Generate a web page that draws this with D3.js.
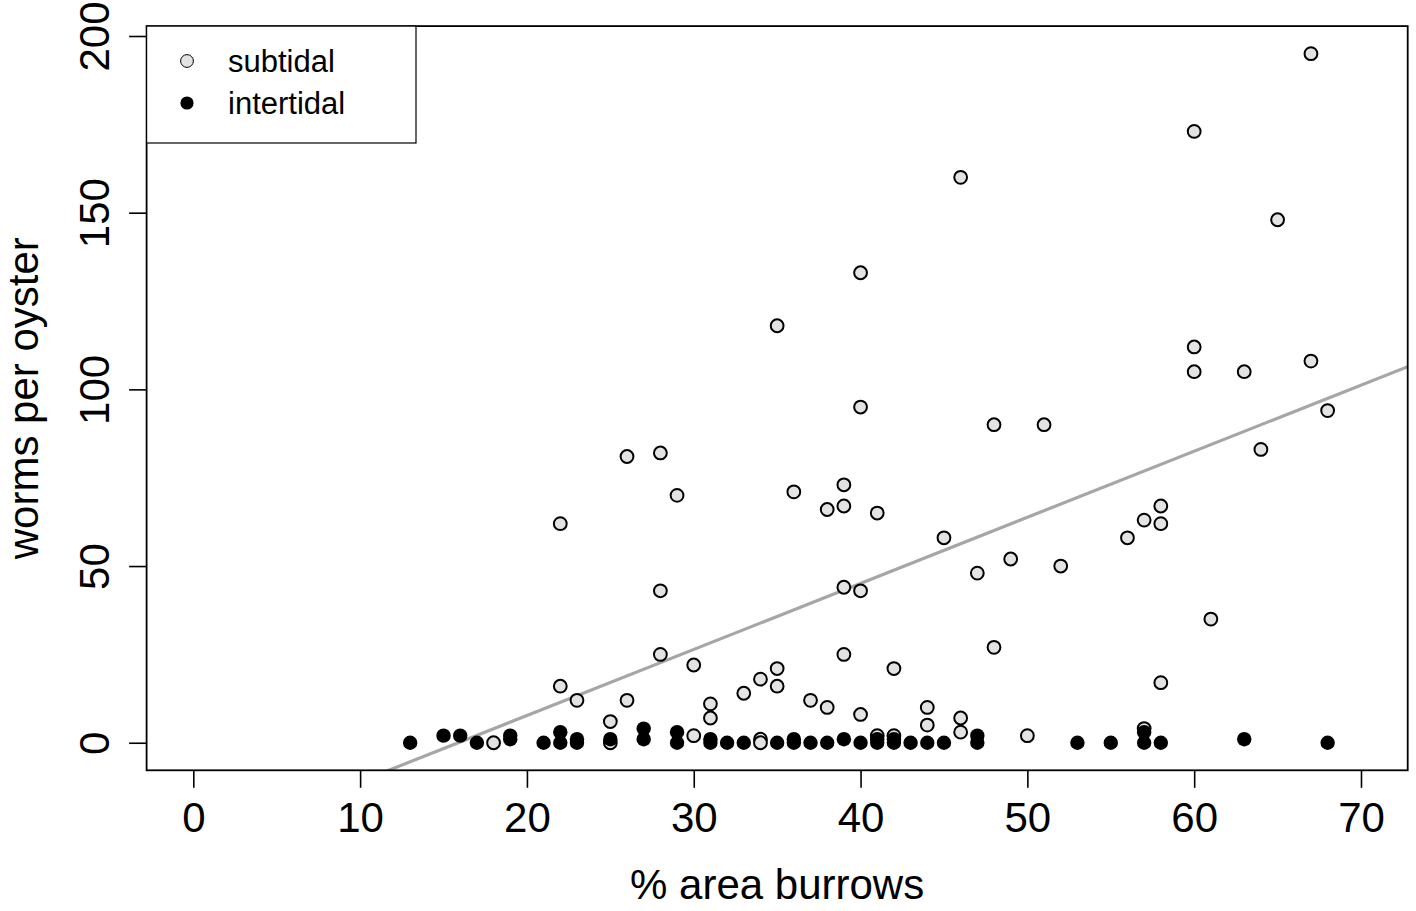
<!DOCTYPE html>
<html>
<head>
<meta charset="utf-8">
<script src="https://cdn.jsdelivr.net/npm/d3@7"></script>
<style>
  html, body { margin: 0; padding: 0; background: #fff; }
  svg { display: block; font-family: "Liberation Sans", Arial, Helvetica, sans-serif; }
</style>
</head>
<body>
<svg id="chart" width="1416" height="911"></svg>
<script>
// Worm counts per oyster against % area covered by burrows
const subtidalX = [67, 60, 46, 65, 40, 35, 60, 60, 63, 67, 40, 68, 48, 51, 64, 26, 28, 29, 36, 39,
                   39, 38, 41, 58, 57, 58, 56, 22, 45, 49, 52, 47, 28, 39, 40, 61, 48, 28, 39, 30,
                   35, 42, 34, 58, 22, 35, 33, 37, 23, 26, 31, 38, 44, 40, 31, 46, 25, 44, 57, 46,
                   18, 25, 30, 34, 34, 41, 42, 50];
const subtidalY = [195, 173, 160, 148, 133, 118, 112, 105, 105, 108, 95, 94, 90, 90, 83, 81, 82, 70, 71, 73,
                   67, 66, 65, 67, 63, 62, 58, 62, 58, 52, 50, 48, 43, 44, 43, 35, 27, 25, 25, 22,
                   21, 21, 18, 17, 16, 16, 14, 12, 12, 12, 11, 10, 10, 8, 7, 7, 6, 5, 4, 3,
                   0, 0, 2, 1, 0, 2, 2, 2];

const intertidalX = [13, 15, 16, 17, 19, 19, 21, 22, 22, 23, 23, 25, 27, 27, 29, 29, 31, 31, 32, 33,
                     35, 36, 36, 37, 38, 39, 40, 41, 41, 42, 42, 43, 44, 45, 47, 47, 53, 55, 57, 57,
                     58, 63, 68];
const intertidalY = [0, 2, 2, 0, 2, 1, 0, 3, 0, 1, 0, 1, 4, 1, 3, 0, 1, 0, 0, 0,
                     0, 1, 0, 0, 0, 1, 0, 1, 0, 1, 0, 0, 0, 0, 2, 0, 0, 0, 3, 0,
                     0, 1, 0];

// Fitted least-squares line: worms = intercept + slope * %area
const fitIntercept = -29.7;
const fitSlope = 1.87;

const xTicks = [0, 10, 20, 30, 40, 50, 60, 70];
const yTicks = [0, 50, 100, 150, 200];
const seriesNames = ["subtidal", "intertidal"];

const xTitle = "% area burrows";
const yTitle = "worms per oyster";

const svg = d3.select("#chart");

const plot = { left: 146.6, right: 1407.7, top: 26.1, bottom: 770.3 };

const x = d3.scaleLinear().domain([-2.8, 72.8]).range([plot.left, plot.right]);
const y = d3.scaleLinear().domain([-7.8, 202.8]).range([plot.bottom, plot.top]);

const fillSub = "#e3e3e3";

svg.append("defs").append("clipPath").attr("id", "plotClip")
  .append("rect")
  .attr("x", plot.left).attr("y", plot.top)
  .attr("width", plot.right - plot.left).attr("height", plot.bottom - plot.top);

// regression line
const x0 = -2.8, x1 = 72.8;
svg.append("line")
  .attr("clip-path", "url(#plotClip)")
  .attr("x1", x(x0)).attr("y1", y(fitIntercept + fitSlope * x0))
  .attr("x2", x(x1)).attr("y2", y(fitIntercept + fitSlope * x1))
  .attr("stroke", "#a6a6a6").attr("stroke-width", 3.2);

// subtidal points
const sub = subtidalX.map((v, i) => ({ x: v, y: subtidalY[i] }));
svg.append("g").selectAll("circle").data(sub).join("circle")
  .attr("cx", d => x(d.x)).attr("cy", d => y(d.y)).attr("r", 6.4)
  .attr("fill", fillSub).attr("stroke", "#000").attr("stroke-width", 2);

// intertidal points
const inter = intertidalX.map((v, i) => ({ x: v, y: intertidalY[i] }));
svg.append("g").selectAll("circle").data(inter).join("circle")
  .attr("cx", d => x(d.x)).attr("cy", d => y(d.y)).attr("r", 7.2)
  .attr("fill", "#000");

// axes
const xAxis = d3.axisBottom(x).tickValues(xTicks).tickSize(17.5).tickPadding(14).tickSizeOuter(0);
const gx = svg.append("g").attr("transform", `translate(0,${plot.bottom})`).call(xAxis);
gx.select(".domain").remove();
gx.selectAll(".tick line").attr("stroke", "#000").attr("stroke-width", 1.6);
gx.selectAll(".tick text").attr("font-size", 42).attr("fill", "#000")
  .attr("font-family", "Liberation Sans, Arial, sans-serif");

const yAxis = d3.axisLeft(y).tickValues(yTicks).tickSize(17.5).tickSizeOuter(0);
const gy = svg.append("g").attr("transform", `translate(${plot.left},0)`).call(yAxis);
gy.select(".domain").remove();
gy.selectAll(".tick line").attr("stroke", "#000").attr("stroke-width", 1.6);
gy.selectAll(".tick text")
  .attr("font-size", 42).attr("fill", "#000")
  .attr("font-family", "Liberation Sans, Arial, sans-serif")
  .attr("x", null).attr("dy", null)
  .attr("text-anchor", "middle")
  .attr("transform", "translate(-38,0) rotate(-90)");

// plot frame
svg.append("rect")
  .attr("x", plot.left).attr("y", plot.top)
  .attr("width", plot.right - plot.left).attr("height", plot.bottom - plot.top)
  .attr("fill", "none").attr("stroke", "#000").attr("stroke-width", 1.8);

// axis titles
svg.append("text")
  .attr("x", (plot.left + plot.right) / 2).attr("y", 899)
  .attr("text-anchor", "middle").attr("font-size", 42).attr("fill", "#000")
  .text(xTitle);

svg.append("text")
  .attr("transform", `translate(38,${(plot.top + plot.bottom) / 2}) rotate(-90)`)
  .attr("text-anchor", "middle").attr("font-size", 42).attr("fill", "#000")
  .text(yTitle);

// legend
const lg = svg.append("g");
lg.append("rect")
  .attr("x", plot.left).attr("y", plot.top)
  .attr("width", 416 - plot.left).attr("height", 143 - plot.top)
  .attr("fill", "#fff").attr("stroke", "#000").attr("stroke-width", 1.2);
const legendItems = seriesNames.map((name, i) => ({ name, i }));
const items = lg.selectAll("g.item").data(legendItems).join("g")
  .attr("class", "item")
  .attr("transform", d => `translate(0,${61 + d.i * 42})`);
items.append("circle")
  .attr("cx", 187).attr("cy", 0).attr("r", d => d.i === 0 ? 6.4 : 6.6)
  .attr("fill", d => d.i === 0 ? fillSub : "#000")
  .attr("stroke", d => d.i === 0 ? "#000" : "none").attr("stroke-width", 1);
items.append("text")
  .attr("x", 228).attr("y", 11)
  .attr("font-size", 31).attr("fill", "#000")
  .text(d => d.name);
</script>
</body>
</html>
